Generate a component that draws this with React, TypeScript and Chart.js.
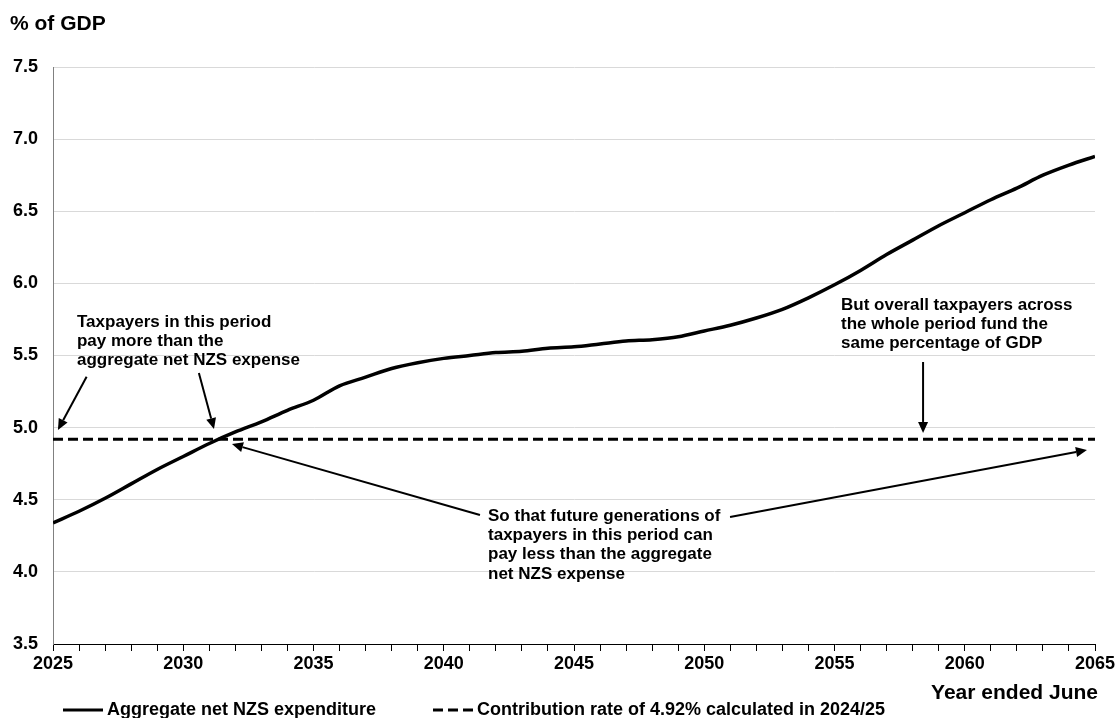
import React, { useEffect, useRef } from "react";
import { Chart, registerables } from "chart.js";

Chart.register(...registerables);

const years = [
  2025, 2026, 2027, 2028, 2029, 2030, 2031, 2032, 2033, 2034, 2035, 2036, 2037, 2038,
  2039, 2040, 2041, 2042, 2043, 2044, 2045, 2046, 2047, 2048, 2049, 2050, 2051, 2052,
  2053, 2054, 2055, 2056, 2057, 2058, 2059, 2060, 2061, 2062, 2063, 2064, 2065,
];
const expenditure = [
  4.34, 4.42, 4.51, 4.61, 4.71, 4.8, 4.89, 4.97, 5.04, 5.12, 5.19, 5.29, 5.35, 5.41,
  5.45, 5.48, 5.5, 5.52, 5.53, 5.55, 5.56, 5.58, 5.6, 5.61, 5.63, 5.67, 5.71, 5.76,
  5.82, 5.9, 5.99, 6.09, 6.2, 6.3, 6.4, 6.49, 6.58, 6.66, 6.75, 6.82, 6.88,
];
const contributionYears = [2025, 2065];
const contribution = [4.92, 4.92];

const yTicks = [3.5, 4.0, 4.5, 5.0, 5.5, 6.0, 6.5, 7.0, 7.5];
const xLabelEvery = 5;

const seriesNames = [
  "Aggregate net NZS expenditure",
  "Contribution rate of 4.92% calculated in 2024/25",
];
const yTitle = "% of GDP";
const xTitle = "Year ended June";

// annotation arrows: [tailX, tailY, tipX, tipY] in data units
const arrows = [
  [2026.29, 5.353, 2025.19, 4.984],
  [2030.6, 5.379, 2031.18, 4.99],
  [2041.39, 4.394, 2031.87, 4.886],
  [2050.99, 4.38, 2064.69, 4.845],
  [2058.4, 5.455, 2058.4, 4.963],
];
// annotation texts: anchor (left, first line) in data units
const notes = [
  { x: 2025.92, y: 5.732, lines: ["Taxpayers in this period", "pay more than the", "aggregate net NZS expense"] },
  {
    x: 2041.7,
    y: 4.387,
    lines: ["So that future generations of", "taxpayers in this period can", "pay less than the aggregate", "net NZS expense"],
  },
  { x: 2055.25, y: 5.85, lines: ["But overall taxpayers across", "the whole period fund the", "same percentage of GDP"] },
];

const FONT = "'Liberation Sans', Arial, Helvetica, sans-serif";

const decorPlugin = {
  id: "decor",
  afterDatasetsDraw(chart: any) {
    const ctx = chart.ctx;
    const xs = chart.scales.x;
    const ys = chart.scales.y;
    ctx.save();
    // arrows
    ctx.strokeStyle = "#000";
    ctx.fillStyle = "#000";
    ctx.lineWidth = 2;
    for (const a of arrows) {
      const x1 = xs.getPixelForValue(a[0]);
      const y1 = ys.getPixelForValue(a[1]);
      const x2 = xs.getPixelForValue(a[2]);
      const y2 = ys.getPixelForValue(a[3]);
      const ang = Math.atan2(y2 - y1, x2 - x1);
      const hl = 11;
      const hw = 5;
      const bx = x2 - hl * Math.cos(ang);
      const by = y2 - hl * Math.sin(ang);
      ctx.beginPath();
      ctx.moveTo(x1, y1);
      ctx.lineTo(bx, by);
      ctx.stroke();
      ctx.beginPath();
      ctx.moveTo(x2, y2);
      ctx.lineTo(bx + hw * Math.sin(ang), by - hw * Math.cos(ang));
      ctx.lineTo(bx - hw * Math.sin(ang), by + hw * Math.cos(ang));
      ctx.closePath();
      ctx.fill();
    }
    // notes
    ctx.font = `bold 17px ${FONT}`;
    ctx.textAlign = "left";
    ctx.textBaseline = "middle";
    for (const n of notes) {
      const x = xs.getPixelForValue(n.x);
      const y = ys.getPixelForValue(n.y);
      n.lines.forEach((l, i) => ctx.fillText(l, x, y + i * 19.3));
    }
    ctx.restore();
  },
  afterDraw(chart: any) {
    const ctx = chart.ctx;
    ctx.save();
    ctx.fillStyle = "#000";
    ctx.textBaseline = "middle";
    ctx.font = `bold 21px ${FONT}`;
    ctx.textAlign = "left";
    ctx.fillText(yTitle, 10, 24);
    ctx.textAlign = "right";
    ctx.fillText(xTitle, chart.chartArea.right + 3, 693);
    // legend
    ctx.font = `bold 18px ${FONT}`;
    ctx.textAlign = "left";
    ctx.strokeStyle = "#000";
    ctx.lineWidth = 3;
    ctx.beginPath();
    ctx.moveTo(63, 710);
    ctx.lineTo(103, 710);
    ctx.stroke();
    ctx.fillText(seriesNames[0], 107, 710);
    ctx.setLineDash([10, 5]);
    ctx.beginPath();
    ctx.moveTo(433, 710);
    ctx.lineTo(473, 710);
    ctx.stroke();
    ctx.setLineDash([]);
    ctx.fillText(seriesNames[1], 477, 710);
    ctx.restore();
  },
};

export default function App() {
  const ref = useRef<HTMLCanvasElement>(null);
  useEffect(() => {
    document.body.style.margin = "0";
    const canvas = ref.current!;
    const chart = new Chart(canvas, {
      type: "line",
      data: {
        datasets: [
          {
            label: seriesNames[0],
            data: years.map((y, i) => ({ x: y, y: expenditure[i] })),
            borderColor: "#000",
            borderWidth: 3.5,
            pointRadius: 0,
            cubicInterpolationMode: "monotone",
            fill: false,
          },
          {
            label: seriesNames[1],
            data: contributionYears.map((y, i) => ({ x: y, y: contribution[i] })),
            borderColor: "#000",
            borderWidth: 3,
            borderDash: [10, 5],
            pointRadius: 0,
            fill: false,
          },
        ],
      },
      options: {
        responsive: false,
        animation: false,
        devicePixelRatio: 1,
        layout: { padding: { left: 0, top: 67, right: 23, bottom: 0 } },
        plugins: { legend: { display: false }, tooltip: { enabled: false }, title: { display: false } },
        scales: {
          x: {
            type: "linear",
            min: years[0],
            max: years[years.length - 1],
            afterFit: (s: any) => {
              s.height = 74;
            },
            afterBuildTicks: (s: any) => {
              s.ticks = years.map((v) => ({ value: v }));
            },
            ticks: {
              autoSkip: false,
              maxRotation: 0,
              padding: 2,
              color: "#000",
              font: { family: FONT, size: 18, weight: "bold" },
              callback: (v: any) => (Number(v) % xLabelEvery === 0 ? String(v) : ""),
            },
            grid: { drawOnChartArea: false, drawTicks: true, tickLength: 7, color: "#000", lineWidth: 1 },
            border: { display: true, color: "#000", width: 1 },
          },
          y: {
            min: yTicks[0],
            max: yTicks[yTicks.length - 1],
            afterFit: (s: any) => {
              s.width = 53;
            },
            afterBuildTicks: (s: any) => {
              s.ticks = yTicks.map((v) => ({ value: v }));
            },
            ticks: {
              padding: 15,
              color: "#000",
              font: { family: FONT, size: 18, weight: "bold" },
              callback: (v: any) => Number(v).toFixed(1),
            },
            grid: { drawTicks: false, color: "#d9d9d9", lineWidth: 1 },
            border: { display: true, color: "#808080", width: 1 },
          },
        },
      },
      plugins: [decorPlugin],
    });
    return () => chart.destroy();
  }, []);
  return (
    <div style={{ width: 1118, height: 718, background: "#fff" }}>
      <canvas ref={ref} width={1118} height={718} style={{ display: "block" }} />
    </div>
  );
}
